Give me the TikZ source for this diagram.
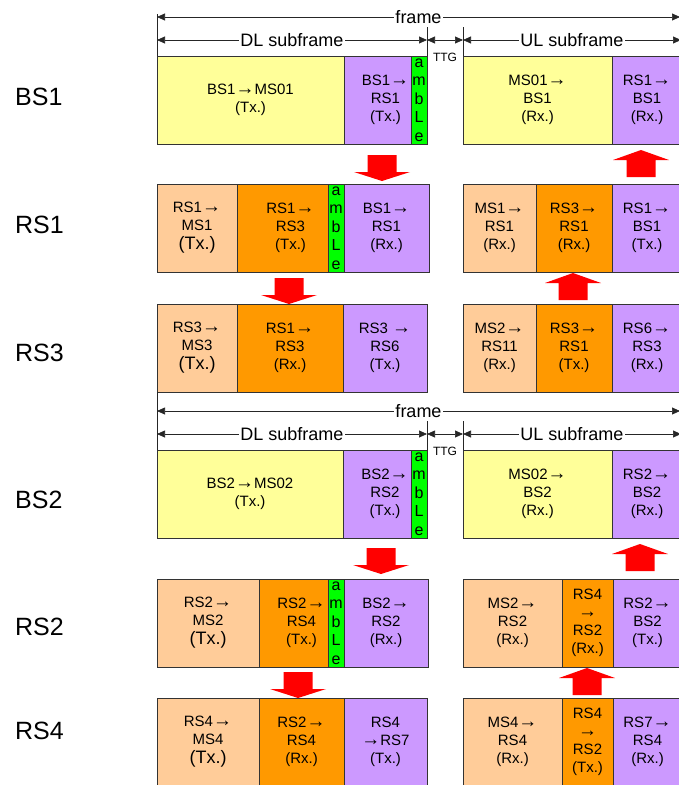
\documentclass[tikz,border=0pt]{standalone}
\usepackage{fontspec}
\setmainfont{Liberation Sans}
\usetikzlibrary{arrows.meta,positioning}
\definecolor{cyel}{HTML}{FFFF99}
\definecolor{cpur}{HTML}{CC99FF}
\definecolor{cgrn}{HTML}{00FF00}
\definecolor{cpch}{HTML}{FFCC99}
\definecolor{corg}{HTML}{FF9900}
\newcommand{\rarr}{{\fontsize{19}{12}\selectfont →}}
\newcommand{\bigtx}{{\fontsize{18}{20}\selectfont (Tx.)}}
\tikzset{
  cell/.style ={rectangle, draw=black!80, line width=0.8pt, inner sep=0pt, outer sep=0pt,
                minimum height=88pt, align=center, font=\fontsize{15}{18}\selectfont},
  yel/.style  ={cell, fill=cyel},
  pur/.style  ={cell, fill=cpur},
  pch/.style  ={cell, fill=cpch},
  org/.style  ={cell, fill=corg},
  amb/.style  ={cell, fill=cgrn, minimum width=16pt, font=\fontsize{16}{18.5}\selectfont},
  lbl/.style  ={anchor=west, inner sep=0pt, font=\fontsize{25}{25}\selectfont},
  hdr/.style  ={fill=white, inner sep=1pt, font=\fontsize{18}{18}\selectfont},
  ttg/.style  ={inner sep=0pt, font=\fontsize{12}{12}\selectfont},
  meas/.style ={{Triangle[length=8pt,width=7pt]}-{Triangle[length=8pt,width=7pt]},
                line width=0.7pt, draw=black!85},
  vline/.style={line width=0.7pt, draw=black!85},
  pics/reddn/.style={code={\fill[red] (-14.5,0) -- (14.5,0) -- (14.5,17) -- (28,17)
                     -- (0,26) -- (-28,17) -- (-14.5,17) -- cycle;}},
  pics/redup/.style={code={\fill[red] (-14.5,0) -- (14.5,0) -- (14.5,-17) -- (28,-17)
                     -- (0,-27) -- (-28,-17) -- (-14.5,-17) -- cycle;}},
}
\begin{document}
\begin{tikzpicture}[x=1pt, y=-1pt]
\useasboundingbox (0,0) rectangle (679,785);

% row labels
\node[lbl] (lbs1) at (15,97)  {BS1};
\node[lbl] (lrs1) at (15,225) {RS1};
\node[lbl] (lrs3) at (15,353) {RS3};
\node[lbl] (lbs2) at (15,500) {BS2};
\node[lbl] (lrs2) at (15,627) {RS2};
\node[lbl] (lrs4) at (15,731) {RS4};

% BS1
\node[yel, minimum width=187pt, anchor=north west] (bs1a) at (157,56) {BS1\rarr MS01\\(Tx.)};
\node[pur, minimum width=83pt, right=0pt of bs1a] (bs1b) {BS1\rarr\\RS1\\(Tx.)};
\node[amb, anchor=north east] (bs1m) at (bs1b.north east) {a\\m\\b\\L\\e};
\node[yel, minimum width=149pt, anchor=north west] (bs1c) at (463,56) {MS01\rarr\\BS1\\(Rx.)};
\node[pur, minimum width=70pt, right=0pt of bs1c] (bs1d) {RS1\rarr\\BS1\\(Rx.)};

% RS1
\node[pch, minimum width=80pt, anchor=north west] (rs1a) at (157,184) {RS1\rarr\\MS1\\[1pt]\bigtx};
\node[org, minimum width=107pt, right=0pt of rs1a] (rs1b) {RS1\rarr\\RS3\\(Tx.)};
\node[amb, anchor=north east] (rs1m) at (rs1b.north east) {a\\m\\b\\L\\e};
\node[pur, minimum width=85pt, right=0pt of rs1b] (rs1e) {BS1\rarr\\RS1\\(Rx.)};
\node[pch, minimum width=73pt, anchor=north west] (rs1c) at (463,184) {MS1\rarr\\RS1\\(Rx.)};
\node[org, minimum width=76pt, right=0pt of rs1c] (rs1f) {RS3\rarr\\RS1\\(Rx.)};
\node[pur, minimum width=70pt, right=0pt of rs1f] (rs1d) {RS1\rarr\\BS1\\(Tx.)};

% RS3
\node[pch, minimum width=80pt, anchor=north west] (rs3a) at (157,304) {RS3\rarr\\MS3\\[1pt]\bigtx};
\node[org, minimum width=106pt, right=0pt of rs3a] (rs3b) {RS1\rarr\\RS3\\(Rx.)};
\node[pur, minimum width=84pt, right=0pt of rs3b] (rs3e) {RS3 \rarr\\RS6\\(Tx.)};
\node[pch, minimum width=73pt, anchor=north west] (rs3c) at (463,304) {MS2\rarr\\RS11\\(Rx.)};
\node[org, minimum width=76pt, right=0pt of rs3c] (rs3f) {RS3\rarr\\RS1\\(Tx.)};
\node[pur, minimum width=70pt, right=0pt of rs3f] (rs3d) {RS6\rarr\\RS3\\(Rx.)};

% BS2
\node[yel, minimum width=186pt, anchor=north west] (bs2a) at (157,450) {BS2\rarr MS02\\(Tx.)};
\node[pur, minimum width=84pt, right=0pt of bs2a] (bs2b) {BS2\rarr\\RS2\\(Tx.)};
\node[amb, anchor=north east] (bs2m) at (bs2b.north east) {a\\m\\b\\L\\e};
\node[yel, minimum width=149pt, anchor=north west] (bs2c) at (463,450) {MS02\rarr\\BS2\\(Rx.)};
\node[pur, minimum width=70pt, right=0pt of bs2c] (bs2d) {RS2\rarr\\BS2\\(Rx.)};

% RS2
\node[pch, minimum width=102pt, anchor=north west] (rs2a) at (157,579) {RS2\rarr\\MS2\\[1pt]\bigtx};
\node[org, minimum width=85pt, right=0pt of rs2a] (rs2b) {RS2\rarr\\RS4\\(Tx.)};
\node[amb, anchor=north east] (rs2m) at (rs2b.north east) {a\\m\\b\\L\\e};
\node[pur, minimum width=84pt, right=0pt of rs2b] (rs2e) {BS2\rarr\\RS2\\(Rx.)};
\node[pch, minimum width=99pt, anchor=north west] (rs2c) at (463,579) {MS2\rarr\\RS2\\(Rx.)};
\node[org, minimum width=51pt, right=0pt of rs2c] (rs2f) {RS4\\\rarr\\RS2\\(Rx.)};
\node[pur, minimum width=69pt, right=0pt of rs2f] (rs2d) {RS2\rarr\\BS2\\(Tx.)};

% RS4
\node[pch, minimum width=102pt, anchor=north west] (rs4a) at (157,698) {RS4\rarr\\MS4\\[1pt]\bigtx};
\node[org, minimum width=85pt, right=0pt of rs4a] (rs4b) {RS2\rarr\\RS4\\(Rx.)};
\node[pur, minimum width=83pt, right=0pt of rs4b] (rs4e) {RS4\\\rarr RS7\\(Tx.)};
\node[pch, minimum width=99pt, anchor=north west] (rs4c) at (463,698) {MS4\rarr\\RS4\\(Rx.)};
\node[org, minimum width=51pt, right=0pt of rs4c] (rs4f) {RS4\\\rarr\\RS2\\(Tx.)};
\node[pur, minimum width=69pt, right=0pt of rs4f] (rs4d) {RS7\rarr\\RS4\\(Rx.)};

% frame headers
\draw[vline] (bs1a.north west) -- ++(0,-42);
\draw[vline] (rs3a.south west) -- (bs2a.north west);
\foreach \r/\t in {bs1/0, bs2/394}{
  \begin{scope}[yshift=-\t pt]
    \coordinate (fa) at (157,17); \coordinate (fb) at (680,17);
    \coordinate (da) at (157,40); \coordinate (db) at (427,40);
    \coordinate (ua) at (463,40); \coordinate (ub) at (681,40);
    \draw[meas] (fa) -- node[hdr] {frame} (fb);
    \draw[meas] (da) -- node[hdr] {DL subframe} (db);
    \draw[meas] (db) -- (ua);
    \draw[meas] (ua) -- node[hdr] {UL subframe} (ub);
    \node[ttg] (ttg\r) at (445,57) {TTG};
  \end{scope}
  \draw[vline] (\r b.north east) -- ++(0,-29);
  \draw[vline] (\r c.north west) -- ++(0,-29);
}

% relay arrows
\pic at (382,155) {reddn};
\pic at (289,278) {reddn};
\pic at (381,548) {reddn};
\pic at (298,672) {reddn};
\pic at (641,177) {redup};
\pic at (573,300) {redup};
\pic at (640,571) {redup};
\pic at (587,695) {redup};
\end{tikzpicture}
\end{document}
